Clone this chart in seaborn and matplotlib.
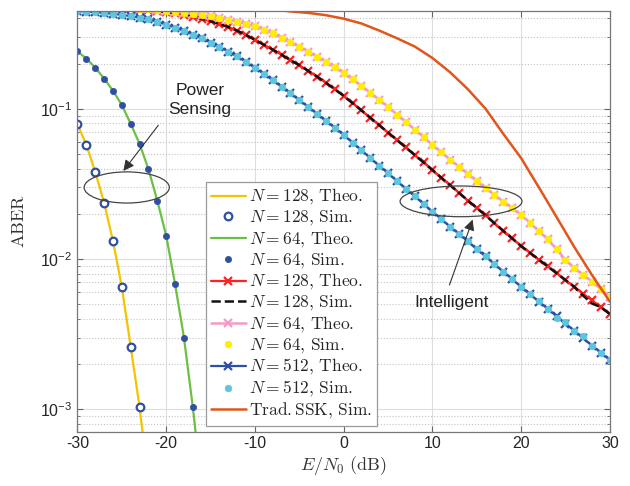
import matplotlib
matplotlib.use("Agg")
import matplotlib.pyplot as plt
from matplotlib.patches import Ellipse
from matplotlib.ticker import LogLocator, NullFormatter
import seaborn as sns

# E/N0 grid (dB) of the intelligent curves
snr_db = list(range(-30, 31))

# intelligent detection, N = 512
ber512_theo = [0.447, 0.444, 0.440, 0.435, 0.429, 0.422, 0.414, 0.405, 0.394, 0.380,
               0.363, 0.347, 0.330, 0.312, 0.294, 0.276, 0.258, 0.240, 0.223, 0.205,
               0.187, 0.171, 0.155, 0.140, 0.127, 0.114, 0.103, 0.0925, 0.0830, 0.0746,
               0.0670, 0.0596, 0.0530, 0.0471, 0.0419, 0.0372, 0.0331, 0.0294, 0.0262, 0.0233,
               0.0207, 0.0185, 0.0164, 0.0147, 0.0131, 0.0116, 0.0104, 0.00925, 0.00824, 0.00735,
               0.00653, 0.00583, 0.00521, 0.00466, 0.00416, 0.00372, 0.00333, 0.00297, 0.00265, 0.00238,
               0.00212]
ber512_sim = [0.447, 0.444, 0.440, 0.435, 0.429, 0.422, 0.414, 0.405, 0.394, 0.380,
              0.363, 0.347, 0.330, 0.312, 0.294, 0.276, 0.258, 0.240, 0.223, 0.205,
              0.187, 0.171, 0.155, 0.140, 0.127, 0.114, 0.103, 0.0925, 0.0830, 0.0746,
              0.0670, 0.0596, 0.0530, 0.0471, 0.0419, 0.0372, 0.0331, 0.0294, 0.0262, 0.0233,
              0.0207, 0.0185, 0.0164, 0.0147, 0.0131, 0.0116, 0.0104, 0.00925, 0.00824, 0.00735,
              0.00653, 0.00583, 0.00528, 0.00466, 0.00405, 0.00380, 0.00333, 0.00305, 0.00262, 0.00238,
              0.00212]

# intelligent detection, N = 128
ber128_theo = [0.481, 0.479, 0.476, 0.473, 0.470, 0.466, 0.461, 0.456, 0.452, 0.446,
               0.440, 0.432, 0.422, 0.410, 0.397, 0.383, 0.367, 0.350, 0.331, 0.310,
               0.288, 0.267, 0.248, 0.229, 0.211, 0.195, 0.179, 0.164, 0.149, 0.135,
               0.122, 0.109, 0.0977, 0.0873, 0.0780, 0.0695, 0.0621, 0.0553, 0.0493, 0.0440,
               0.0392, 0.0348, 0.0310, 0.0276, 0.0245, 0.0219, 0.0195, 0.0173, 0.0154, 0.0137,
               0.0122, 0.0110, 0.00991, 0.00893, 0.00804, 0.00724, 0.00653, 0.00587, 0.00530, 0.00478,
               0.00430]
ber128_sim = [0.481, 0.479, 0.476, 0.473, 0.470, 0.466, 0.461, 0.456, 0.452, 0.446,
              0.440, 0.432, 0.422, 0.410, 0.397, 0.383, 0.367, 0.350, 0.331, 0.310,
              0.288, 0.267, 0.248, 0.229, 0.211, 0.195, 0.179, 0.164, 0.149, 0.135,
              0.122, 0.109, 0.0977, 0.0873, 0.0780, 0.0695, 0.0621, 0.0553, 0.0493, 0.0440,
              0.0392, 0.0348, 0.0310, 0.0276, 0.0245, 0.0219, 0.0195, 0.0173, 0.0154, 0.0137,
              0.0122, 0.0110, 0.00991, 0.00893, 0.00804, 0.00724, 0.00653, 0.00570, 0.00505, 0.00478,
              0.00430]

# intelligent detection, N = 64
ber64_theo = [0.490, 0.488, 0.485, 0.482, 0.478, 0.474, 0.469, 0.464, 0.459, 0.455,
              0.448, 0.443, 0.437, 0.430, 0.422, 0.413, 0.403, 0.392, 0.380, 0.368,
              0.354, 0.337, 0.318, 0.297, 0.278, 0.259, 0.240, 0.222, 0.205, 0.189,
              0.173, 0.157, 0.142, 0.128, 0.115, 0.103, 0.0916, 0.0817, 0.0728, 0.0647,
              0.0575, 0.0514, 0.0459, 0.0411, 0.0368, 0.0330, 0.0297, 0.0267, 0.0241, 0.0218,
              0.0197, 0.0174, 0.0153, 0.0135, 0.0116, 0.00989, 0.00871, 0.00785, 0.00708, 0.00631,
              0.00562]
ber64_sim = ber64_theo

# power sensing
ps128_snr = [-30, -29, -28, -27, -26, -25, -24, -23, -22]
ps128_theo = [0.079, 0.0575, 0.038, 0.0237, 0.0132, 0.0065, 0.0026, 0.00103, 0.00033]
ps128_sim = [0.079, 0.0575, 0.038, 0.0237, 0.0132, 0.0065, 0.0026, 0.00103]
ps64_snr = [-30, -29, -28, -27, -26, -25, -24, -23, -22, -21, -20, -19, -18, -17, -16]
ps64_theo = [0.241, 0.216, 0.188, 0.159, 0.132, 0.106, 0.0794, 0.0584, 0.0396,
             0.0244, 0.0143, 0.0068, 0.0030, 0.00103, 0.00030]
ps64_sim = [0.241, 0.216, 0.188, 0.159, 0.132, 0.106, 0.0794, 0.0584, 0.0396,
            0.0244, 0.0143, 0.0068, 0.0030, 0.00103]

# traditional SSK
ssk_snr = [-8, -6, -4, -2, 0, 2, 4, 6, 8, 10, 12, 14, 16, 18, 20, 22, 24, 26, 28, 30]
ssk_sim = [0.46, 0.445, 0.435, 0.42, 0.398, 0.37, 0.332, 0.295, 0.26, 0.218,
           0.175, 0.135, 0.10, 0.068, 0.047, 0.030, 0.019, 0.012, 0.0078, 0.0052]

sns.set_theme(style="whitegrid")
plt.rcParams["font.family"] = ["Liberation Sans", "DejaVu Sans"]
plt.rcParams["mathtext.fontset"] = "cm"
plt.rcParams["axes.unicode_minus"] = False

fig = plt.figure(figsize=(6.3, 4.86), dpi=100)
ax = fig.add_axes([0.123, 0.112, 0.845, 0.866])


def draw(x, y, label, **kw):
    sns.lineplot(x=x, y=y, ax=ax, label=label, estimator=None, sort=False, **kw)


dkblue = "#2F4FA0"
draw(ps128_snr, ps128_theo, r"$N = 128,\,\mathrm{Theo.}$", color="#F5C400", lw=1.6)
draw(ps128_snr[:-1], ps128_sim, r"$N = 128,\,\mathrm{Sim.}$", color=dkblue, linestyle="",
     marker="o", ms=5.5, mfc="white", mec=dkblue, mew=1.6)
draw(ps64_snr, ps64_theo, r"$N = 64,\,\mathrm{Theo.}$", color="#6CBF45", lw=1.6)
draw(ps64_snr[:-1], ps64_sim, r"$N = 64,\,\mathrm{Sim.}$", color=dkblue, linestyle="",
     marker="o", ms=4.5, mfc=dkblue, mec=dkblue, mew=0.5)
draw(snr_db, ber128_theo, r"$N = 128,\,\mathrm{Theo.}$", color="#FF2020", lw=1.6,
     marker="x", ms=5.5, mec="#FF2020", mew=1.6)
draw(snr_db, ber128_sim, r"$N = 128,\,\mathrm{Sim.}$", color="#111111", lw=1.8, linestyle="--")
draw(snr_db, ber64_theo, r"$N = 64,\,\mathrm{Theo.}$", color="#F59AC8", lw=1.8,
     marker="x", ms=5.5, mec="#F59AC8", mew=1.6)
draw(snr_db, ber64_sim, r"$N = 64,\,\mathrm{Sim.}$", color="#FFEE00", linestyle="",
     marker="o", ms=4.8, mfc="#FFEE00", mec="#FFEE00", mew=0.5)
draw(snr_db, ber512_theo, r"$N = 512,\,\mathrm{Theo.}$", color="#2C4FA8", lw=1.6,
     marker="x", ms=5.5, mec="#2C4FA8", mew=1.6)
draw(snr_db, ber512_sim, r"$N = 512,\,\mathrm{Sim.}$", color="#5CC6DC", linestyle="",
     marker="o", ms=4.8, mfc="#5CC6DC", mec="#5CC6DC", mew=0.5)
draw(ssk_snr, ssk_sim, r"$\mathrm{Trad.SSK,\,Sim.}$", color="#E0561C", lw=1.8)

ax.set_yscale("log")
ax.set_xlim(-30, 30)
ax.set_ylim(7.1e-4, 0.45)
ax.set_xticks([-30, -20, -10, 0, 10, 20, 30])
ax.yaxis.set_major_locator(LogLocator(base=10))
ax.yaxis.set_minor_locator(LogLocator(base=10, subs=range(2, 10)))
ax.yaxis.set_minor_formatter(NullFormatter())

ax.grid(True, which="major", color="#dedede", lw=0.8, ls="-")
ax.yaxis.grid(True, which="minor", color="#c4c4c4", lw=0.8, ls=":")
ax.xaxis.grid(False, which="minor")
ax.tick_params(which="both", direction="in", bottom=True, left=True, top=True, right=True,
               colors="#666666", labelcolor="#262626", labelsize=11.5)
ax.tick_params(which="major", length=4, width=0.8)
ax.tick_params(which="minor", length=2.5, width=0.6)
for sp in ax.spines.values():
    sp.set_color("#777777")
    sp.set_linewidth(0.9)

ax.set_xlabel(r"$E/N_0\ \mathrm{(dB)}$", fontsize=13, color="#333333", labelpad=2)
ax.set_ylabel(r"$\mathrm{ABER}$", fontsize=13, color="#333333", labelpad=9)

leg = ax.legend(loc="lower left", bbox_to_anchor=(0.241, 0.013), fontsize=12.5,
                frameon=True, fancybox=False, framealpha=1, edgecolor="#9a9a9a",
                labelspacing=0.1, handlelength=2.0, handletextpad=0.2,
                borderpad=0.3, borderaxespad=0)
leg.get_frame().set_linewidth(0.9)

# annotations
ax.add_patch(Ellipse((0.0925, 0.58), 0.16, 0.074, transform=ax.transAxes,
                     fill=False, ec="#444444", lw=0.9, zorder=5))
ax.text(0.23, 0.788, "Power\nSensing", transform=ax.transAxes, ha="center", va="center",
        fontsize=12.5, color="#222222", linespacing=1.3)
ax.annotate("", xy=(0.083, 0.614), xytext=(0.155, 0.733), xycoords="axes fraction",
            arrowprops=dict(arrowstyle="-|>", color="#333333", lw=0.8, mutation_scale=16))

ax.add_patch(Ellipse((0.7205, 0.547), 0.229, 0.073, transform=ax.transAxes,
                     fill=False, ec="#444444", lw=0.9, zorder=5))
ax.text(0.703, 0.307, "Intelligent", transform=ax.transAxes, ha="center", va="center",
        fontsize=12.5, color="#222222")
ax.annotate("", xy=(0.744, 0.51), xytext=(0.697, 0.342), xycoords="axes fraction",
            arrowprops=dict(arrowstyle="-|>", color="#333333", lw=0.8, mutation_scale=16))

fig.savefig("out.png", dpi=100)
